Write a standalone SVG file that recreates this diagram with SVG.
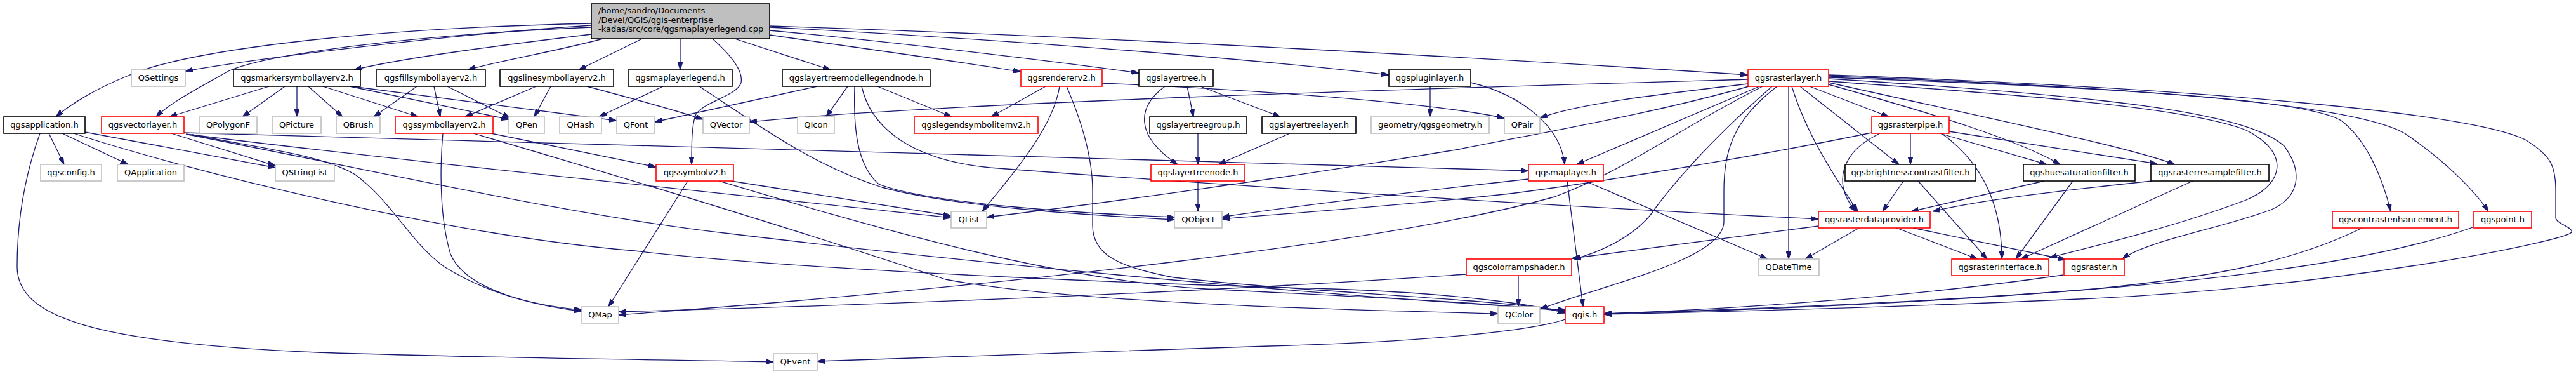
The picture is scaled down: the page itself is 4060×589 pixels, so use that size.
<svg xmlns="http://www.w3.org/2000/svg" width="4060" height="589" viewBox="0 0 4060 589">
<defs>
<style>
rect{fill:#fff;stroke-width:1.6}
.k{stroke:#000}
.r{stroke:#ff0000}
.g{stroke:#bfbfbf}
.m{fill:#bfbfbf;stroke:#000}
text{font-family:"DejaVu Sans",sans-serif;font-size:13px;fill:#000;text-anchor:middle}
.l{text-anchor:start}
#edges path{fill:none;stroke:#191970;stroke-width:1.3;marker-end:url(#a)}
</style>
<marker id="a" viewBox="0 0 12 8" refX="12" refY="4" markerWidth="12" markerHeight="8" markerUnits="userSpaceOnUse" orient="auto"><path d="M0,0 L12,4 L0,8 z" fill="#191970" stroke="#191970"/></marker>
</defs>
<rect x="0" y="0" width="4060" height="589" style="fill:#fff;stroke:none"/>
<g id="edges">
<path d="M932,37 C560,45 290,80 200,120 C150,140 110,165 88,184"/>
<path d="M932,40 C700,55 420,90 292,112"/>
<path d="M932,43 C650,55 420,85 360,112 C320,135 270,160 246,184"/>
<path d="M932,54 C800,70 640,90 558,110"/>
<path d="M950,61 C880,80 790,95 737,110"/>
<path d="M1012,61 L912,110"/>
<path d="M1072,61 L1072,110"/>
<path d="M1123,61 C1150,85 1172,110 1168,130 C1163,150 1110,160 1097,180 C1090,195 1090,230 1090,259"/>
<path d="M1158,61 L1309,110"/>
<path d="M1213,55 C1350,75 1500,95 1609,113"/>
<path d="M1213,48 C1400,65 1650,95 1795,115"/>
<path d="M1213,43 C1550,60 1950,90 2189,118"/>
<path d="M1213,41 C1800,60 2400,95 2755,118"/>
<path d="M424,136 L267,184"/>
<path d="M449,136 L382,184"/>
<path d="M468,136 L468,184"/>
<path d="M486,136 L540,184"/>
<path d="M509,136 L659,184"/>
<path d="M551,136 L802,188"/>
<path d="M554,136 L972,190"/>
<path d="M657,136 L589,184"/>
<path d="M684,136 L694,184"/>
<path d="M705,136 L804,186"/>
<path d="M845,136 L733,184"/>
<path d="M868,136 L842,184"/>
<path d="M925,136 C1000,156 1060,172 1108,188"/>
<path d="M1045,136 L944,184"/>
<path d="M1102,136 C1200,200 1280,260 1390,295 C1500,325 1700,338 1851,346"/>
<path d="M1288,136 L1032,192"/>
<path d="M1336,136 L1302,184"/>
<path d="M1347,136 C1345,200 1350,260 1385,290 C1460,320 1700,336 1851,342"/>
<path d="M1383,136 L1500,184"/>
<path d="M1358,136 C1370,190 1420,250 1560,264 C1900,290 2400,322 2866,345"/>
<path d="M1648,136 L1562,184"/>
<path d="M1670,136 C1660,200 1600,270 1548,333"/>
<path d="M1681,136 C1700,180 1722,240 1722,300 L1722,355 C1722,400 1760,420 1850,437 C2050,460 2350,470 2467,490"/>
<path d="M1737,131 C1950,140 2250,160 2371,186"/>
<path d="M1871,136 L1881,184"/>
<path d="M1892,136 L2018,184"/>
<path d="M1836,136 C1790,170 1790,215 1856,259"/>
<path d="M1888,210 L1888,259"/>
<path d="M2033,210 L1920,259"/>
<path d="M1888,285 L1888,333"/>
<path d="M2254,136 L2254,184"/>
<path d="M2318,130 C2400,150 2460,200 2466,259"/>
<path d="M77,210 L101,259"/>
<path d="M98,210 L202,259"/>
<path d="M134,208 L434,264"/>
<path d="M116,210 C300,270 700,370 1000,395 C1300,430 1900,450 2100,455 C2300,462 2420,480 2467,493"/>
<path d="M63,210 C45,260 27,330 27,420 C27,500 150,540 500,555 C800,565 1100,567 1219,570"/>
<path d="M270,210 L434,261"/>
<path d="M290,209 C800,225 1800,250 2409,269"/>
<path d="M293,211 C600,250 1100,300 1499,343"/>
<path d="M296,212 C600,270 900,340 1150,368 C1500,410 2000,460 2467,488"/>
<path d="M303,212 C420,235 510,245 560,275 C620,320 645,380 700,420 C780,470 870,485 917,490"/>
<path d="M769,209 L1034,263"/>
<path d="M698,210 C692,280 695,350 710,400 C735,460 850,482 917,488"/>
<path d="M746,210 C950,270 1250,360 1490,440 C1700,480 2200,490 2361,494"/>
<path d="M1152,285 L1499,340"/>
<path d="M1084,285 L959,483"/>
<path d="M1133,285 C1350,350 1650,440 1900,455 C2200,470 2400,480 2467,491"/>
<path d="M2409,282 C2200,305 2000,330 1926,342"/>
<path d="M2498,285 L2786,408"/>
<path d="M2470,285 L2495,483"/>
<path d="M2755,125 C2300,138 1500,160 1181,192"/>
<path d="M2755,132 C2600,150 2480,165 2427,186"/>
<path d="M2760,135 C2600,180 2450,205 2300,235 C2000,285 1700,325 1555,342"/>
<path d="M2773,136 L2485,259"/>
<path d="M2778,136 C2650,200 2560,270 2450,310 C2200,380 1600,450 975,496"/>
<path d="M2793,136 C2720,200 2650,270 2600,340 C2570,375 2520,398 2480,408"/>
<path d="M2801,136 C2730,190 2717,240 2717,300 L2717,349 C2717,410 2520,450 2427,487"/>
<path d="M2819,136 L2819,408"/>
<path d="M2824,136 C2850,220 2900,290 2928,333"/>
<path d="M2837,136 L2993,259"/>
<path d="M2852,136 L2977,184"/>
<path d="M2882,133 C3050,180 3180,220 3247,259"/>
<path d="M2882,130 C3150,190 3350,230 3428,259"/>
<path d="M2882,128 C3200,150 3450,170 3540,205 C3610,240 3600,290 3540,315 C3420,360 3290,390 3230,406"/>
<path d="M2882,124 C3300,150 3540,175 3600,230 C3630,270 3625,310 3580,330 C3500,360 3380,380 3345,408"/>
<path d="M2882,122 C3400,140 3640,160 3690,190 C3730,220 3755,280 3768,333"/>
<path d="M2882,120 C3450,140 3720,170 3790,210 C3850,250 3900,300 3922,333"/>
<path d="M2882,118 C3500,140 3900,180 3980,220 C4020,245 4028,260 4028,300 L4028,343 C4028,352 4056,358 4053,366 C4040,380 3700,450 3300,470 C2900,488 2650,492 2528,495"/>
<path d="M2950,209 C2750,250 2500,290 2380,305 C2200,325 2000,338 1926,345"/>
<path d="M3011,210 L3011,259"/>
<path d="M3057,210 L3226,259"/>
<path d="M3072,207 L3400,258"/>
<path d="M2963,210 C2900,240 2888,290 2925,333"/>
<path d="M3060,210 C3130,260 3155,330 3155,408"/>
<path d="M3000,285 L2967,333"/>
<path d="M3023,285 L3132,408"/>
<path d="M3222,285 L3012,333"/>
<path d="M3267,285 L3177,408"/>
<path d="M3392,285 C3250,300 3120,315 3046,333"/>
<path d="M3456,285 L3185,408"/>
<path d="M2930,359 L2845,408"/>
<path d="M2866,356 L2477,407"/>
<path d="M2989,359 L3117,408"/>
<path d="M3015,359 L3256,409"/>
<path d="M2393,434 L2393,483"/>
<path d="M2311,432 C1900,460 1400,480 975,491"/>
<path d="M3252,433 C3000,470 2700,488 2528,494"/>
<path d="M3723,359 C3600,420 3450,440 3300,455 C3000,480 2700,490 2528,494"/>
<path d="M3900,357 C3700,430 3300,470 2528,494"/>
<path d="M2467,503 C2400,525 2200,540 2000,545 C1700,555 1400,565 1288,569"/>
</g>
<g id="n-main"><rect class="m" x="932" y="6" width="281" height="55"/><text class="l" x="943" y="21">/home/sandro/Documents</text><text class="l" x="943" y="35.5">/Devel/QGIS/qgis-enterprise</text><text class="l" x="943" y="50">-kadas/src/core/qgsmaplayerlegend.cpp</text></g>
<g id="n-qsettings"><rect class="g" x="207" y="110" width="85" height="26"/><text x="249.5" y="127">QSettings</text></g>
<g id="n-marker"><rect class="k" x="368" y="110" width="200" height="26"/><text x="468" y="127">qgsmarkersymbollayerv2.h</text></g>
<g id="n-fill"><rect class="k" x="593" y="110" width="172" height="26"/><text x="679" y="127">qgsfillsymbollayerv2.h</text></g>
<g id="n-line"><rect class="k" x="788" y="110" width="179" height="26"/><text x="877.5" y="127">qgslinesymbollayerv2.h</text></g>
<g id="n-maplayerlegend"><rect class="k" x="990" y="110" width="164" height="26"/><text x="1072" y="127">qgsmaplayerlegend.h</text></g>
<g id="n-modellegendnode"><rect class="k" x="1233" y="110" width="233" height="26"/><text x="1349.5" y="127">qgslayertreemodellegendnode.h</text></g>
<g id="n-rendererv2"><rect class="r" x="1609" y="110" width="128" height="26"/><text x="1673" y="127">qgsrendererv2.h</text></g>
<g id="n-layertree"><rect class="k" x="1795" y="110" width="117" height="26"/><text x="1853.5" y="127">qgslayertree.h</text></g>
<g id="n-pluginlayer"><rect class="k" x="2189" y="110" width="129" height="26"/><text x="2253.5" y="127">qgspluginlayer.h</text></g>
<g id="n-rasterlayer"><rect class="r" x="2755" y="110" width="127" height="26"/><text x="2818.5" y="127">qgsrasterlayer.h</text></g>
<g id="n-application"><rect class="k" x="6" y="184" width="128" height="26"/><text x="70" y="201">qgsapplication.h</text></g>
<g id="n-vectorlayer"><rect class="r" x="160" y="184" width="130" height="26"/><text x="225" y="201">qgsvectorlayer.h</text></g>
<g id="n-qpolygonf"><rect class="g" x="314" y="184" width="91" height="26"/><text x="359.5" y="201">QPolygonF</text></g>
<g id="n-qpicture"><rect class="g" x="429" y="184" width="77" height="26"/><text x="467.5" y="201">QPicture</text></g>
<g id="n-qbrush"><rect class="g" x="530" y="184" width="69" height="26"/><text x="564.5" y="201">QBrush</text></g>
<g id="n-symbollayerv2"><rect class="r" x="623" y="184" width="154" height="26"/><text x="700" y="201">qgssymbollayerv2.h</text></g>
<g id="n-qpen"><rect class="g" x="802" y="184" width="56" height="26"/><text x="830" y="201">QPen</text></g>
<g id="n-qhash"><rect class="g" x="882" y="184" width="66" height="26"/><text x="915" y="201">QHash</text></g>
<g id="n-qfont"><rect class="g" x="972" y="184" width="60" height="26"/><text x="1002" y="201">QFont</text></g>
<g id="n-qvector"><rect class="g" x="1108" y="184" width="73" height="26"/><text x="1144.5" y="201">QVector</text></g>
<g id="n-qicon"><rect class="g" x="1257" y="184" width="58" height="26"/><text x="1286" y="201">QIcon</text></g>
<g id="n-legendsymbolitem"><rect class="r" x="1441" y="184" width="195" height="26"/><text x="1538.5" y="201">qgslegendsymbolitemv2.h</text></g>
<g id="n-layertreegroup"><rect class="k" x="1812" y="184" width="153" height="26"/><text x="1888.5" y="201">qgslayertreegroup.h</text></g>
<g id="n-layertreelayer"><rect class="k" x="1989" y="184" width="148" height="26"/><text x="2063" y="201">qgslayertreelayer.h</text></g>
<g id="n-geometry"><rect class="g" x="2161" y="184" width="186" height="26"/><text x="2254" y="201">geometry/qgsgeometry.h</text></g>
<g id="n-qpair"><rect class="g" x="2371" y="184" width="56" height="26"/><text x="2399" y="201">QPair</text></g>
<g id="n-rasterpipe"><rect class="r" x="2950" y="184" width="122" height="26"/><text x="3011" y="201">qgsrasterpipe.h</text></g>
<g id="n-config"><rect class="g" x="64" y="259" width="96" height="26"/><text x="112" y="276">qgsconfig.h</text></g>
<g id="n-qapplication"><rect class="g" x="185" y="259" width="105" height="26"/><text x="237.5" y="276">QApplication</text></g>
<g id="n-qstringlist"><rect class="g" x="434" y="259" width="93" height="26"/><text x="480.5" y="276">QStringList</text></g>
<g id="n-symbolv2"><rect class="r" x="1034" y="259" width="122" height="26"/><text x="1095" y="276">qgssymbolv2.h</text></g>
<g id="n-layertreenode"><rect class="r" x="1814" y="259" width="148" height="26"/><text x="1888" y="276">qgslayertreenode.h</text></g>
<g id="n-maplayer"><rect class="r" x="2409" y="259" width="118" height="26"/><text x="2468" y="276">qgsmaplayer.h</text></g>
<g id="n-brightness"><rect class="k" x="2908" y="259" width="206" height="26"/><text x="3011" y="276">qgsbrightnesscontrastfilter.h</text></g>
<g id="n-huesaturation"><rect class="k" x="3189" y="259" width="176" height="26"/><text x="3277" y="276">qgshuesaturationfilter.h</text></g>
<g id="n-resample"><rect class="k" x="3390" y="259" width="186" height="26"/><text x="3483" y="276">qgsrasterresamplefilter.h</text></g>
<g id="n-qlist"><rect class="g" x="1499" y="333" width="56" height="26"/><text x="1527" y="350">QList</text></g>
<g id="n-qobject"><rect class="g" x="1851" y="333" width="75" height="26"/><text x="1888.5" y="350">QObject</text></g>
<g id="n-rasterdataprovider"><rect class="r" x="2866" y="333" width="176" height="26"/><text x="2954" y="350">qgsrasterdataprovider.h</text></g>
<g id="n-contrastenhancement"><rect class="r" x="3676" y="333" width="199" height="26"/><text x="3775.5" y="350">qgscontrastenhancement.h</text></g>
<g id="n-point"><rect class="r" x="3899" y="333" width="91" height="26"/><text x="3944.5" y="350">qgspoint.h</text></g>
<g id="n-colorrampshader"><rect class="r" x="2311" y="408" width="166" height="26"/><text x="2394" y="425">qgscolorrampshader.h</text></g>
<g id="n-qdatetime"><rect class="g" x="2771" y="408" width="96" height="26"/><text x="2819" y="425">QDateTime</text></g>
<g id="n-rasterinterface"><rect class="r" x="3076" y="408" width="153" height="26"/><text x="3152.5" y="425">qgsrasterinterface.h</text></g>
<g id="n-raster"><rect class="r" x="3253" y="408" width="95" height="26"/><text x="3300.5" y="425">qgsraster.h</text></g>
<g id="n-qmap"><rect class="g" x="917" y="483" width="58" height="26"/><text x="946" y="500">QMap</text></g>
<g id="n-qcolor"><rect class="g" x="2361" y="483" width="66" height="26"/><text x="2394" y="500">QColor</text></g>
<g id="n-qgis"><rect class="r" x="2467" y="483" width="61" height="26"/><text x="2497.5" y="500">qgis.h</text></g>
<g id="n-qevent"><rect class="g" x="1219" y="557" width="69" height="26"/><text x="1253.5" y="574">QEvent</text></g>
</svg>
